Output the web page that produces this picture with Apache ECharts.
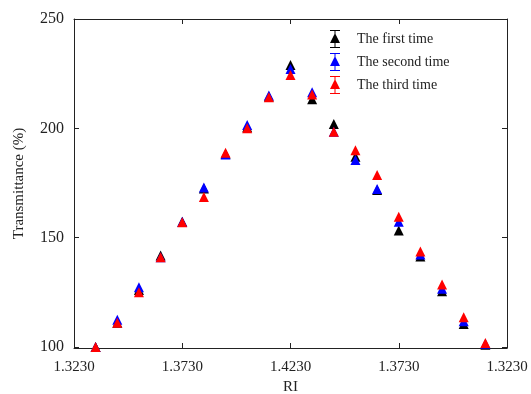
<!DOCTYPE html>
<html>
<head>
<meta charset="utf-8">
<script src="https://cdn.jsdelivr.net/npm/echarts@6/dist/echarts.min.js"></script>
<style>
  html, body { margin: 0; padding: 0; background: #fff; }
  #chart { width: 531px; height: 394px; }
</style>
</head>
<body>
<div id="chart"></div>
<script>
// x positions in steps of 0.01 RI from the left edge (1.3230)
const steps = [1, 2, 3, 4, 5, 6, 7, 8, 9, 10, 11, 12, 13, 14, 15, 16, 17, 18, 19];
const xTickLabels = ["1.3230", "1.3730", "1.4230", "1.3730", "1.3230"];
const yTicks = [100, 150, 200, 250];

const firstTime = [100, 111, 126, 141.8, 157.2, 172.5, 188.2, 200.5, 214.5, 229, 213.3, 202, 187, 171.8, 153.3, 141.4, 125.5, 110.5, 101];
const secondTime = [100, 112.4, 127.3, 141, 157.2, 172.9, 188, 201.5, 215, 227.1, 216.5, 198.4, 185.5, 172.2, 157.2, 142.3, 126.6, 111.7, 101.5];
const thirdTime = [100, 111.1, 125, 141, 157, 168.6, 188.8, 200, 214.2, 224.4, 215.5, 198.4, 190, 178.6, 159.5, 143.7, 128.6, 113.6, 101.8];

const seriesNames = ["The first time", "The second time", "The third time"];
const colors = ["#000000", "#0000ff", "#ff0000"];

// triangle with error bar, used as legend icon
const legendIcon = "path://M0,0H10V1H0Z M4.5,0H5.5V18H4.5Z M0,17H10V18H0Z M5,3L10,13H0Z";

const font = "Liberation Serif";
const chart = echarts.init(document.getElementById("chart"));

const toPoints = (vals) => vals.map((v, i) => [steps[i], v]);

const frameAxis = {
  axisLine: { show: true, onZero: false, lineStyle: { color: "#222", width: 1 } },
  axisTick: { show: true, inside: true, length: 5, lineStyle: { color: "#222" } },
  splitLine: { show: false },
};

chart.setOption({
  animation: false,
  textStyle: { fontFamily: font },
  grid: { left: 74, top: 19, right: 24, bottom: 46, containLabel: false, outerBoundsMode: "none" },
  legend: {
    orient: "vertical",
    left: 325,
    top: 25,
    itemWidth: 10,
    itemHeight: 18,
    itemGap: 5,
    icon: legendIcon,
    textStyle: { fontFamily: font, fontSize: 14, color: "#222", padding: [0, 0, 0, 12] },
    data: seriesNames,
  },
  xAxis: [
    {
      type: "value",
      min: 0,
      max: 20,
      interval: 5,
      position: "bottom",
      name: "RI",
      nameLocation: "middle",
      nameGap: 30,
      nameTextStyle: { fontFamily: font, fontSize: 15, color: "#222" },
      axisLabel: {
        fontFamily: font,
        fontSize: 15,
        color: "#222",
        margin: 12,
        formatter: (v) => xTickLabels[v / 5],
      },
      ...frameAxis,
    },
    {
      type: "value",
      min: 0,
      max: 20,
      interval: 5,
      position: "top",
      axisLabel: { show: false },
      ...frameAxis,
    },
  ],
  yAxis: [
    {
      type: "value",
      min: 99.5,
      max: 250,
      position: "left",
      name: "Transmittance (%)",
      nameLocation: "middle",
      nameGap: 47,
      nameTextStyle: { fontFamily: font, fontSize: 15, color: "#222" },
      axisLabel: { fontFamily: font, fontSize: 16, color: "#222", margin: 10, customValues: yTicks },
      ...frameAxis,
      axisTick: { show: true, inside: true, length: 5, lineStyle: { color: "#222" }, customValues: yTicks },
    },
    {
      type: "value",
      min: 99.5,
      max: 250,
      position: "right",
      axisLabel: { show: false, customValues: yTicks },
      ...frameAxis,
      axisTick: { show: true, inside: true, length: 5, lineStyle: { color: "#222" }, customValues: yTicks },
    },
  ],
  series: [firstTime, secondTime, thirdTime].map((vals, k) => ({
    name: seriesNames[k],
    type: "scatter",
    symbol: "triangle",
    symbolSize: [10, 10],
    itemStyle: { color: colors[k], opacity: 1 },
    data: toPoints(vals),
    z: 2 + k,
  })),
});
</script>
</body>
</html>
